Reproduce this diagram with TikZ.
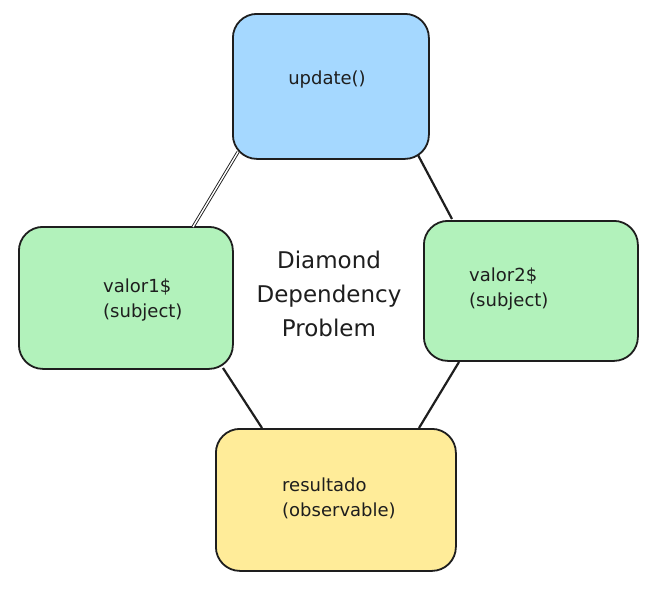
\documentclass[tikz,border=0pt]{standalone}
\usepackage{fontspec}
\setmainfont{DejaVu Sans}
\definecolor{inkc}{HTML}{1E1E1E}
\definecolor{bluef}{HTML}{A5D8FF}
\definecolor{greenf}{HTML}{B2F2BB}
\definecolor{yellowf}{HTML}{FFEC99}
\tikzset{
  card/.style={draw=inkc, line width=1.8pt, rounded corners=24pt, inner sep=0pt, anchor=north west},
  lbl/.style={text=inkc, font=\fontsize{18}{25}\selectfont, align=left, anchor=west, inner sep=0pt},
  link/.style={draw=inkc, line width=2.2pt},
}
\begin{document}
\begin{tikzpicture}[x=1pt,y=-1pt]
\useasboundingbox[fill=white] (0,0) rectangle (665,590);
% boxes
\node[card, fill=bluef, minimum width=196pt, minimum height=145pt] (upd) at (232,13) {};
\node[card, fill=greenf, minimum width=214pt, minimum height=142pt] (v1) at (18,226) {};
\node[card, fill=greenf, minimum width=214pt, minimum height=140pt] (v2) at (423,220) {};
\node[card, fill=yellowf, minimum width=240pt, minimum height=142pt] (res) at (215,428) {};
% connector end points
\coordinate (u1) at (238,152);
\coordinate (a1) at (193,227);
\coordinate (u2) at (418,155);
\coordinate (b2) at (452,219);
\coordinate (a3) at (223,368);
\coordinate (r3) at (262,428);
\coordinate (b4) at (459,362);
\coordinate (r4) at (419,428);
\draw[draw=inkc, line width=0.9pt, double=white, double distance=1.4pt] (u1) -- (a1);
\draw[link] (u2) -- (b2);
\draw[link] (a3) -- (r3);
\draw[link] (b4) -- (r4);
% labels
\node[text=inkc, font=\fontsize{18}{25}\selectfont] (tu) at (327,80) {update()};
\node[lbl] (t1) at (103,300) {valor1\$\\(subject)};
\node[lbl] (t2) at (469,289) {valor2\$\\(subject)};
\node[lbl] (t3) at (282,498) {resultado\\(observable)};
\node[text=inkc, font=\fontsize{23}{34}\selectfont, align=center] (title) at (329,294) {Diamond\\Dependency\\Problem};
\end{tikzpicture}
\end{document}
